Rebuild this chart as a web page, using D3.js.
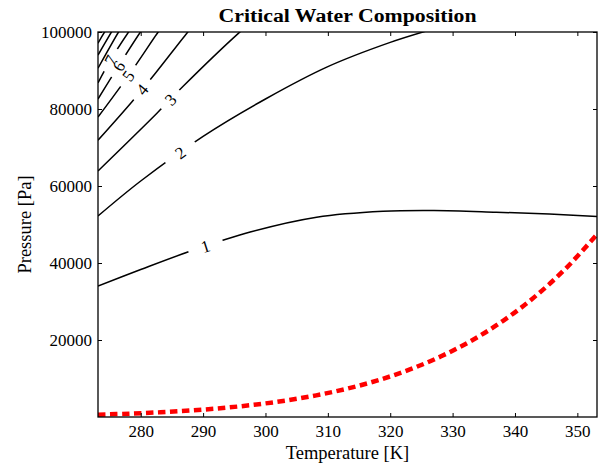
<!DOCTYPE html>
<html>
<head>
<meta charset="utf-8">
<script src="https://cdn.jsdelivr.net/npm/d3@7"></script>
<style>
  body { margin: 0; background: #fff; }
  text { font-family: "Liberation Serif", "DejaVu Serif", serif; fill: #000; }
</style>
</head>
<body>
<div id="viz"></div>
<script>
// saturation pressure of water (red dashed curve)
var satTemps = [273.15, 278.15, 283.15, 288.15, 293.15, 298.15, 303.15, 308.15, 313.15,
                318.15, 323.15, 328.15, 333.15, 338.15, 343.15, 348.15, 353.15];
var satPress = [611, 872, 1228, 1705, 2339, 3169, 4246, 5627, 7384,
                9590, 12352, 15763, 19946, 25042, 31201, 38595, 47414];

// contour lines [temperature K, pressure Pa]
var level1 = [[273.15, 34000], [280, 38300], [288, 43100], [297.55, 48050],
              [308.2, 51900], [318.85, 53450], [327, 53650], [337, 53200], [345.5, 52700], [353.15, 52100]];
var level2 = [[273.15, 52200], [280, 61300], [290, 72900], [300, 82600], [310, 91000],
              [320, 97300], [326.5, 100600]];
var level3 = [[273.15, 63900], [282.6, 78900], [286.8, 85900], [295.7, 99700], [296.5, 100800]];
var level4 = [[273.15, 71900], [278.6, 81900], [282.35, 89300], [287.4, 99700], [288, 100800]];
var level5 = [[273.15, 77900], [278, 88600], [282.8, 100000], [283.2, 100800]];
var level6 = [[273.15, 82600], [276.45, 91200], [279.95, 100000], [280.3, 100800]];
var level7 = [[273.15, 86800], [275.15, 92700], [278.05, 100000], [278.4, 100800]];
var level8 = [[273.15, 90600], [276.45, 100000], [276.8, 100800]];
var level9 = [[273.15, 94000], [275.3, 100000], [275.6, 100800]];
var level10 = [[273.15, 97100], [274.2, 100000], [274.5, 100800]];

var contourLines = [level1, level2, level3, level4, level5, level6, level7, level8, level9, level10];

// inline labels: which level and at what temperature
var labelLevels = [1, 2, 3, 4, 5, 6, 7];
var labelTemps = [290.4, 286.35, 284.75, 280.2, 278.0, 276.45, 275.15];

var xTicks = [280, 290, 300, 310, 320, 330, 340, 350];
var yTicks = [20000, 40000, 60000, 80000, 100000];

renderChart();

function renderChart() {
  var width = 602, height = 465;
  var margin = {top: 32, right: 5, bottom: 48, left: 98};

  var svg = d3.select("#viz")
    .append("svg")
    .attr("width", width)
    .attr("height", height);

  var x = d3.scaleLinear()
    .domain([273.15, 353.15])
    .range([margin.left, width - margin.right]);
  var y = d3.scaleLinear()
    .domain([0, 100000])
    .range([height - margin.bottom, margin.top]);

  var defs = svg.append("defs");
  defs.append("clipPath")
    .attr("id", "plotClip")
    .append("rect")
    .attr("x", x.range()[0])
    .attr("y", y.range()[1])
    .attr("width", x.range()[1] - x.range()[0])
    .attr("height", y.range()[0] - y.range()[1]);

  var line = d3.line()
    .x(function(d) { return x(d[0]); })
    .y(function(d) { return y(d[1]); })
    .curve(d3.curveCatmullRom.alpha(0.5));

  // label positions in pixels, with the angle of the line there
  var labels = labelLevels.map(function(lev, i) {
    var pts = contourLines[lev - 1];
    var t = labelTemps[i];
    var j = 0;
    while (j < pts.length - 2 && pts[j + 1][0] < t) j++;
    var a = pts[j], b = pts[j + 1];
    var f = (t - a[0]) / (b[0] - a[0]);
    var p = a[1] + f * (b[1] - a[1]);
    var ang = Math.atan2(y(b[1]) - y(a[1]), x(b[0]) - x(a[0])) * 180 / Math.PI;
    return {level: lev, px: x(t), py: y(p), angle: ang};
  });

  // one mask per contour to cut the gap for its label
  contourLines.forEach(function(pts, i) {
    var m = defs.append("mask")
      .attr("id", "gap" + i)
      .attr("maskUnits", "userSpaceOnUse")
      .attr("x", 0).attr("y", 0)
      .attr("width", width).attr("height", height);
    m.append("rect")
      .attr("width", width).attr("height", height)
      .attr("fill", "white");
    labels.filter(function(l) { return l.level == i + 1; }).forEach(function(l) {
      var w = l.level <= 2 ? 36 : 26;
      m.append("rect")
        .attr("x", -w / 2).attr("y", -8)
        .attr("width", w).attr("height", 16)
        .attr("fill", "black")
        .attr("transform", "translate(" + l.px + "," + l.py + ") rotate(" + l.angle + ")");
    });
  });

  var plot = svg.append("g").attr("clip-path", "url(#plotClip)");

  plot.selectAll("path.contour")
    .data(contourLines)
    .enter()
    .append("path")
    .attr("class", "contour")
    .attr("d", line)
    .attr("mask", function(d, i) { return "url(#gap" + i + ")"; })
    .attr("fill", "none")
    .attr("stroke", "black")
    .attr("stroke-width", 1.5);

  plot.selectAll("text.clabel")
    .data(labels)
    .enter()
    .append("text")
    .attr("class", "clabel")
    .attr("transform", function(d) { return "translate(" + d.px + "," + d.py + ") rotate(" + d.angle + ")"; })
    .attr("text-anchor", "middle")
    .attr("dy", "0.35em")
    .style("font-size", "17px")
    .text(function(d) { return d.level; });

  // saturation curve
  var satData = satTemps.map(function(t, i) { return [t, satPress[i]]; });
  plot.append("path")
    .datum(satData)
    .attr("d", line)
    .attr("fill", "none")
    .attr("stroke", "#ff0000")
    .attr("stroke-width", 4.5)
    .attr("stroke-dasharray", "7.5,4.5");

  // axes with inward ticks on all four sides
  var gx = svg.append("g")
    .attr("transform", "translate(0," + y.range()[0] + ")")
    .call(d3.axisBottom(x).tickValues(xTicks).tickSizeInner(-4).tickSizeOuter(0).tickPadding(8));
  var gy = svg.append("g")
    .attr("transform", "translate(" + x.range()[0] + ",0)")
    .call(d3.axisLeft(y).tickValues(yTicks).tickFormat(d3.format("d")).tickSizeInner(-4).tickSizeOuter(0).tickPadding(6));
  var gt = svg.append("g")
    .attr("transform", "translate(0," + y.range()[1] + ")")
    .call(d3.axisTop(x).tickValues(xTicks).tickSizeInner(-4).tickSizeOuter(0).tickFormat(""));
  var gr = svg.append("g")
    .attr("transform", "translate(" + x.range()[1] + ",0)")
    .call(d3.axisRight(y).tickValues(yTicks).tickSizeInner(-4).tickSizeOuter(0).tickFormat(""));

  [gx, gy, gt, gr].forEach(function(g) {
    g.select(".domain").remove();
    g.selectAll("line").attr("stroke", "black").attr("stroke-width", 1);
    g.selectAll("text")
      .style("font-family", "'Liberation Serif', serif")
      .style("font-size", "17px")
      .attr("fill", "black");
  });

  svg.append("rect")
    .attr("x", x.range()[0])
    .attr("y", y.range()[1])
    .attr("width", x.range()[1] - x.range()[0])
    .attr("height", y.range()[0] - y.range()[1])
    .attr("fill", "none")
    .attr("stroke", "black")
    .attr("stroke-width", 1.3);

  // titles
  svg.append("text")
    .attr("x", (x.range()[0] + x.range()[1]) / 2)
    .attr("y", 22)
    .attr("text-anchor", "middle")
    .attr("textLength", 258)
    .attr("lengthAdjust", "spacingAndGlyphs")
    .style("font-size", "18.5px")
    .style("font-weight", "bold")
    .text("Critical Water Composition");

  svg.append("text")
    .attr("x", (x.range()[0] + x.range()[1]) / 2)
    .attr("y", 459)
    .attr("text-anchor", "middle")
    .style("font-size", "18.5px")
    .text("Temperature [K]");

  svg.append("text")
    .attr("transform", "translate(31," + ((y.range()[0] + y.range()[1]) / 2) + ") rotate(-90)")
    .attr("text-anchor", "middle")
    .style("font-size", "18.5px")
    .text("Pressure [Pa]");
}
</script>
</body>
</html>
